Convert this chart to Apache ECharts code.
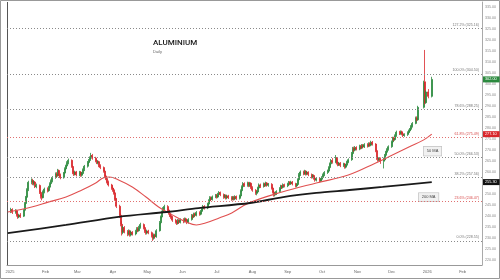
<!DOCTYPE html>
<html><head><meta charset="utf-8">
<script src="https://cdn.jsdelivr.net/npm/echarts@6/dist/echarts.min.js"></script>
<style>html,body{margin:0;padding:0;background:#fff}#c{width:500px;height:280px}</style>
</head><body><div id="c"></div>
<script>
// Daily candles: [day, open, close, low, high]
const jan25 = [[2,242.0,242.8,241.2,243.6],[3,242.8,241.5,240.8,243.4],[6,241.5,242.3,240.9,243.0],[7,242.3,240.2,239.6,242.8],[8,240.2,239.4,238.6,240.9],[9,239.4,240.3,238.9,240.9],[10,240.3,239.8,239.0,241.2],[13,239.8,242.5,239.4,243.0],[14,242.5,245.6,242.0,246.2],[15,245.6,248.4,245.0,249.0],[16,248.4,251.9,247.9,252.5],[17,251.9,255.2,251.2,255.9],[20,255.2,256.0,254.3,257.0],[21,256.0,254.6,253.9,256.8],[22,254.6,255.3,253.8,256.1],[23,255.3,253.2,252.6,255.8],[24,253.2,253.8,252.5,254.6],[27,253.8,250.6,249.9,254.2],[28,250.6,248.8,247.8,251.2],[29,248.8,248.2,247.0,249.6],[30,248.2,250.9,247.9,251.5],[31,250.9,252.1,250.2,252.8]];
const feb25 = [[3,252.1,251.4,250.6,252.9],[4,251.4,253.0,250.9,253.6],[5,253.0,254.6,252.4,255.2],[6,254.6,255.9,254.0,256.5],[7,255.9,257.4,255.2,258.0],[10,257.4,259.0,256.8,259.7],[11,259.0,258.2,257.5,259.8],[12,258.2,260.6,257.8,261.3],[13,260.6,258.7,258.0,261.0],[14,258.7,257.3,256.6,259.2],[17,257.3,259.4,256.9,259.9],[18,259.4,261.3,258.9,262.0],[19,261.3,262.6,260.7,263.2],[20,262.6,264.1,262.0,264.8],[21,264.1,265.2,263.4,266.0],[24,265.2,262.4,261.8,265.6],[25,262.4,259.6,258.9,262.8],[26,259.6,258.8,258.1,260.3],[27,258.8,259.9,258.3,260.5],[28,259.9,258.6,257.9,260.4]];
const mar25 = [[3,258.6,259.8,258.0,260.4],[4,259.8,258.4,257.7,260.3],[5,258.4,259.2,257.8,259.9],[6,259.2,260.9,258.7,261.5],[7,260.9,262.5,260.3,263.1],[10,262.5,264.2,261.9,264.9],[11,264.2,265.1,263.6,265.8],[12,265.1,266.3,264.6,267.0],[13,266.3,267.4,265.8,268.6],[14,267.4,266.2,265.5,268.1],[17,266.2,265.0,264.3,266.8],[18,265.0,264.1,263.5,265.6],[19,264.1,264.6,263.4,265.2],[20,264.6,262.8,262.1,265.0],[21,262.8,261.9,261.2,263.4],[24,261.9,260.3,259.6,262.4],[25,260.3,258.1,257.4,260.8],[26,258.1,256.9,256.2,258.7],[27,256.9,255.4,254.7,257.5],[28,255.4,254.0,253.3,256.0],[31,254.0,252.6,251.8,254.5]];
const apr25 = [[1,252.6,251.8,250.9,253.4],[2,251.8,250.4,249.6,252.6],[3,250.4,247.6,246.8,250.9],[4,247.6,244.3,243.5,248.1],[7,244.3,240.2,239.0,245.0],[8,240.2,236.1,235.2,241.0],[9,236.1,232.4,231.0,237.5],[10,232.4,234.6,231.6,235.4],[11,234.6,232.8,232.0,235.3],[14,232.8,231.6,230.7,233.5],[15,231.6,233.1,231.0,233.8],[16,233.1,231.2,230.5,233.6],[17,231.2,232.5,230.6,233.2],[18,232.5,231.7,231.0,233.0],[21,231.7,232.9,231.1,233.6],[22,232.9,234.1,232.3,234.8],[23,234.1,233.2,232.5,234.9],[24,233.2,234.7,232.8,235.4],[25,234.7,236.0,234.1,236.8],[28,236.0,234.6,233.8,236.5],[29,234.6,233.0,232.2,235.1],[30,233.0,232.1,231.4,233.6]];
const may25 = [[1,232.1,233.0,231.5,233.7],[2,233.0,232.3,231.6,233.6],[5,232.3,230.9,230.1,232.8],[6,230.9,229.8,228.55,231.4],[7,229.8,231.2,229.1,231.9],[8,231.2,230.5,229.7,231.8],[9,230.5,233.2,230.0,233.9],[12,233.2,236.8,232.8,237.6],[13,236.8,239.4,236.1,240.1],[14,239.4,241.6,238.8,242.3],[15,241.6,243.1,240.9,243.9],[16,243.1,244.2,242.4,245.0],[19,244.2,242.6,241.9,244.8],[20,242.6,241.2,240.5,243.2],[21,241.2,240.1,239.4,241.8],[22,240.1,239.4,238.6,240.7],[23,239.4,238.0,237.2,240.0],[26,238.0,237.1,236.4,238.6],[27,237.1,236.5,235.8,237.8],[28,236.5,237.9,236.0,238.5],[29,237.9,237.0,236.3,238.4],[30,237.0,238.2,236.5,238.8]];
const jun25 = [[2,238.2,237.4,236.6,238.9],[3,237.4,238.6,236.9,239.2],[4,238.6,237.8,237.0,239.1],[5,237.8,236.9,236.2,238.4],[6,236.9,238.3,236.4,238.9],[9,238.3,240.1,237.8,240.8],[10,240.1,239.5,238.8,240.7],[11,239.5,240.8,239.0,241.4],[12,240.8,240.2,239.5,241.4],[13,240.2,241.5,239.7,242.1],[16,241.5,240.7,240.0,242.0],[17,240.7,242.0,240.2,242.6],[18,242.0,243.1,241.5,243.7],[19,243.1,244.2,242.5,244.9],[20,244.2,243.5,242.8,244.8],[23,243.5,245.3,243.0,245.9],[24,245.3,246.9,244.8,247.5],[25,246.9,248.2,246.3,248.9],[26,248.2,247.4,246.7,248.8],[27,247.4,248.6,246.9,249.2],[30,248.6,249.3,248.0,249.9]];
const jul25 = [[1,249.3,248.5,247.8,249.9],[2,248.5,249.8,248.0,250.4],[3,249.8,250.6,249.2,251.2],[4,250.6,249.6,248.9,251.0],[7,249.6,248.4,247.7,250.1],[8,248.4,249.2,247.9,249.8],[9,249.2,248.1,247.4,249.7],[10,248.1,249.0,247.5,249.6],[11,249.0,248.3,247.6,249.5],[14,248.3,247.5,246.8,248.9],[15,247.5,248.4,247.0,249.0],[16,248.4,247.6,246.9,249.0],[17,247.6,248.7,247.1,249.3],[18,248.7,247.9,247.2,249.2],[21,247.9,249.0,247.4,249.6],[22,249.0,251.4,248.6,252.0],[23,251.4,253.2,250.8,253.8],[24,253.2,254.6,252.6,255.3],[25,254.6,253.8,253.1,255.2],[28,253.8,254.9,253.2,255.5],[29,254.9,253.7,253.0,255.4],[30,253.7,254.8,253.1,255.4],[31,254.8,252.9,252.2,255.2]];
const aug25 = [[1,252.9,251.6,250.9,253.4],[4,251.6,250.2,249.5,252.1],[5,250.2,250.8,249.3,251.4],[6,250.8,252.6,250.3,253.2],[7,252.6,254.0,252.0,254.7],[8,254.0,253.3,252.6,254.6],[11,253.3,254.5,252.8,255.1],[12,254.5,253.8,253.1,255.0],[13,253.8,254.9,253.3,255.5],[14,254.9,253.9,253.2,255.3],[15,253.9,254.3,253.2,254.9],[18,254.3,252.6,251.9,254.8],[19,252.6,250.8,250.1,253.1],[20,250.8,249.4,248.7,251.3],[21,249.4,249.9,248.8,250.5],[22,249.9,251.0,249.4,251.6],[25,251.0,252.4,250.5,253.0],[26,252.4,253.5,251.9,254.1],[27,253.5,252.9,252.2,254.0],[28,252.9,254.1,252.4,254.7],[29,254.1,253.6,252.9,254.6]];
const sep25 = [[1,253.6,254.4,253.0,255.0],[2,254.4,255.2,253.8,255.8],[3,255.2,254.6,253.9,255.7],[4,254.6,255.3,254.0,255.9],[5,255.3,254.5,253.8,255.8],[8,254.5,253.6,252.9,255.0],[9,253.6,254.2,252.9,254.8],[10,254.2,256.4,253.8,257.0],[11,256.4,258.7,255.9,259.4],[12,258.7,259.9,258.1,260.6],[15,259.9,259.1,258.4,260.5],[16,259.1,260.2,258.6,260.9],[17,260.2,259.0,258.3,260.7],[18,259.0,259.8,258.4,260.4],[19,259.8,258.7,258.0,260.2],[22,258.7,257.6,256.9,259.2],[23,257.6,258.3,257.0,258.9],[24,258.3,257.1,256.4,258.8],[25,257.1,256.2,255.5,257.6],[26,256.2,256.8,255.6,257.4],[29,256.8,255.9,255.2,257.3],[30,255.9,256.6,255.3,257.2]];
const oct25 = [[1,256.6,257.4,255.9,258.0],[2,257.4,258.6,256.9,259.2],[3,258.6,259.7,258.0,260.3],[6,259.7,260.3,259.0,261.0],[7,260.3,261.9,259.8,262.5],[8,261.9,263.6,261.3,264.2],[9,263.6,265.1,263.0,265.8],[10,265.1,264.4,263.7,266.2],[13,264.4,266.2,263.9,267.6],[14,266.2,264.0,263.3,266.7],[15,264.0,263.2,262.5,264.6],[16,263.2,263.9,262.6,264.5],[17,263.9,262.8,262.1,264.4],[20,262.8,263.5,262.2,264.1],[21,263.5,262.1,261.4,264.0],[22,262.1,263.0,261.5,263.6],[23,263.0,264.4,262.5,265.0],[24,264.4,265.5,263.9,266.1],[27,265.5,268.3,265.0,269.0],[28,268.3,270.6,267.8,271.3],[29,270.6,269.8,269.1,271.4],[30,269.8,271.0,269.3,271.7],[31,271.0,270.4,269.7,271.6]];
const nov25 = [[3,270.4,271.6,269.8,272.3],[4,271.6,270.9,270.2,272.2],[5,270.9,272.0,270.3,272.6],[6,272.0,271.3,270.6,272.6],[7,271.3,272.4,270.8,273.0],[10,272.4,271.7,271.0,273.0],[11,271.7,272.8,271.2,273.4],[12,272.8,272.1,271.4,273.4],[13,272.1,273.4,271.6,274.1],[14,273.4,272.6,271.9,274.0],[17,272.6,269.6,268.9,273.0],[18,269.6,266.1,265.4,270.1],[19,266.1,265.5,264.6,266.8],[20,265.5,266.0,264.9,266.6],[21,266.0,264.8,263.6,266.5],[24,264.8,265.4,261.5,266.4],[25,265.4,267.5,264.9,268.1],[26,267.5,268.9,267.0,269.5],[27,268.9,270.1,268.4,270.7],[28,270.1,271.4,269.6,272.0]];
const dec25 = [[1,271.4,273.6,270.9,274.2],[2,273.6,275.3,273.0,275.9],[3,275.3,274.6,273.9,275.9],[4,274.6,276.4,274.1,277.0],[5,276.4,278.0,275.9,278.7],[8,278.0,277.4,276.7,278.6],[9,277.4,278.2,276.8,278.8],[10,278.2,277.3,276.6,278.7],[11,277.3,276.5,275.8,277.9],[12,276.5,276.9,275.9,277.5],[15,276.9,277.8,276.3,278.4],[16,277.8,278.6,277.2,279.2],[17,278.6,279.3,278.0,279.9],[18,279.3,280.6,278.8,281.2],[19,280.6,282.0,280.1,282.6],[22,282.0,284.5,281.6,285.1],[23,284.5,283.6,282.9,285.2],[24,283.6,289.3,283.2,290.0],[29,289.3,300.6,288.8,301.4],[30,300.9,291.4,290.6,315.4],[31,291.4,296.3,290.9,297.0]];
const jan26 = [[2,296.3,294.3,293.4,297.6],[5,294.3,302.0,293.8,303.2]];
const candleMonths = [['2025-01',jan25],['2025-02',feb25],['2025-03',mar25],['2025-04',apr25],['2025-05',may25],['2025-06',jun25],['2025-07',jul25],['2025-08',aug25],['2025-09',sep25],['2025-10',oct25],['2025-11',nov25],['2025-12',dec25],['2026-01',jan26]];

// Moving averages
const ma50 = [['2024-12-30',241.7],['2025-01-20',244.0],['2025-02-04',246.3],['2025-02-19',248.5],['2025-03-05',251.7],['2025-03-17',254.9],['2025-03-24',257.3],['2025-03-29',257.6],['2025-04-06',256.3],['2025-04-18',253.1],['2025-04-30',248.5],['2025-05-11',244.0],['2025-05-23',240.4],['2025-06-04',237.2],['2025-06-13',235.8],['2025-06-21',236.7],['2025-07-03',239.0],['2025-07-14',241.3],['2025-07-29',245.8],['2025-08-27',250.8],['2025-09-26',254.9],['2025-10-24',258.5],['2025-11-17',264.0],['2025-11-28',266.7],['2025-12-16',271.3],['2025-12-29',274.5],['2026-01-05',277.1]];
const ma200 = [['2024-12-30',232.1],['2025-02-19',235.8],['2025-04-06',239.5],['2025-05-18',241.7],['2025-06-15',243.5],['2025-07-30',245.8],['2025-08-28',248.5],['2025-09-26',250.4],['2025-10-25',251.7],['2025-11-23',253.1],['2026-01-05',255.3]];

// Fibonacci levels
const fibNames = ['0.0%','23.6%','38.2%','50.0%','61.8%','78.6%','100.0%','127.2%'];
const fibValues = [228.55,246.47,257.56,266.53,275.49,288.25,304.50,325.16];
const fibRed = [false,true,false,false,true,false,false,false];

// Price axis tick labels
const priceTicks = [220,225,230,235,240,245,250,255,260,265,270,275,280,285,290,295,300,305,310,315,320,325,330,335];
const monthNames = ['Jan','Feb','Mar','Apr','May','Jun','Jul','Aug','Sep','Oct','Nov','Dec'];

const GREEN = '#2b8a3e', RED = '#d9262b';
const SMALL = 'Liberation Sans';
const candles = [];
candleMonths.forEach(([ym, rows]) => rows.forEach(r => candles.push([ym + '-' + String(r[0]).padStart(2,'0'), r[1], r[2], r[3], r[4]])));
const lastCandle = candles[candles.length - 1];

const fibLines = fibValues.map((v, i) => ({
  yAxis: v,
  lineStyle: {color: fibRed[i] ? '#e07070' : '#8a8a8a', type: [1, 2], width: 1},
  label: {show: true, position: 'insideEndTop', distance: [3, 1.5], formatter: fibNames[i] + ' (' + v.toFixed(2) + ')',
    color: fibRed[i] ? '#d84a4a' : '#777', fontSize: 3.6, fontFamily: SMALL}
}));

function priceTag(v, bg) {
  return {yAxis: v, lineStyle: {color: 'rgba(0,0,0,0)', width: 0}, label: {show: true, position: 'end', distance: 1, formatter: v.toFixed(2),
    backgroundColor: bg, color: '#fff', fontSize: 3.8, padding: [1, 3, 1, 2], fontFamily: SMALL}};
}

const chart = echarts.init(document.getElementById('c'), null, {renderer: 'canvas'});
chart.setOption({
  animation: false,
  backgroundColor: '#fff',
  title: {text: 'ALUMINIUM', subtext: 'Daily', left: 148, top: 34, itemGap: 3,
    textStyle: {fontSize: 8, fontWeight: 500, color: '#222', fontFamily: 'Roboto'},
    subtextStyle: {fontSize: 4, color: '#666', fontFamily: SMALL}},
  grid: {left: 7, right: 18, top: 2, bottom: 15, show: false},
  xAxis: {type: 'time', min: '2024-12-29 09:00', max: '2026-02-17 23:00', splitNumber: 14,
    axisLine: {show: true, lineStyle: {color: '#999', width: 1}}, axisTick: {show: false},
    splitLine: {show: false},
    axisLabel: {fontSize: 4, color: '#666', margin: 5, fontFamily: SMALL, showMinLabel: false, showMaxLabel: false,
      formatter: function (val) { const d = new Date(val); return d.getMonth() === 0 ? String(d.getFullYear()) : monthNames[d.getMonth()]; }}},
  yAxis: {type: 'value', position: 'right', min: 217.6, max: 337.2, scale: true,
    axisLine: {show: true, lineStyle: {color: '#aaa', width: 1}}, axisTick: {show: false}, splitLine: {show: false},
    axisLabel: {customValues: priceTicks, fontSize: 3.6, color: '#888', margin: 3, fontFamily: SMALL,
      formatter: v => v.toFixed(2)}},
  series: [
    {type: 'candlestick', name: 'Aluminium', data: candles, barWidth: 1.5, clip: false,
      dimensions: ['date', 'open', 'close', 'lowest', 'highest'],
      encode: {x: 'date', y: ['open', 'close', 'lowest', 'highest']},
      itemStyle: {color: GREEN, color0: RED, borderColor: GREEN, borderColor0: RED, borderWidth: 0.8},
      markLine: {symbol: 'none', silent: true, animation: false, data: fibLines.concat([priceTag(lastCandle[2], GREEN)])}},
    {type: 'line', name: '50 MA', data: ma50, smooth: 0.4, showSymbol: false, z: 3, clip: false,
      lineStyle: {color: '#e05050', width: 1.1},
      endLabel: {show: true, formatter: '50 MA', offset: [-16, 17], fontSize: 4, color: '#444', backgroundColor: '#f1f1f1',
        borderColor: '#bbb', borderWidth: 0.6, padding: [2.5, 3], fontFamily: SMALL},
      markLine: {symbol: 'none', silent: true, data: [priceTag(ma50[ma50.length - 1][1], RED)]}},
    {type: 'line', name: '200 MA', data: ma200, smooth: 0.3, showSymbol: false, z: 3, clip: false,
      lineStyle: {color: '#1a1a1a', width: 1.8},
      endLabel: {show: true, formatter: '200 MA', offset: [-21, 15], fontSize: 4, color: '#444', backgroundColor: '#f1f1f1',
        borderColor: '#bbb', borderWidth: 0.6, padding: [2, 3], fontFamily: SMALL},
      markLine: {symbol: 'none', silent: true, data: [priceTag(ma200[ma200.length - 1][1], '#111')]}}
  ],
  graphic: [{type: 'rect', shape: {x: 0.5, y: 0.5, width: 499, height: 278}, style: {fill: 'none', stroke: '#999', lineWidth: 1}, silent: true},
    {type: 'line', shape: {x1: 7.5, y1: 2, x2: 7.5, y2: 265}, style: {stroke: '#555', lineWidth: 1}, silent: true}]
});
</script></body></html>
